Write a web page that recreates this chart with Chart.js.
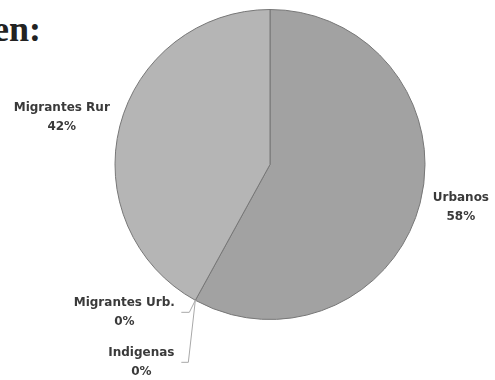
<!DOCTYPE html>
<html>
<head>
<meta charset="utf-8">
<script src="https://cdn.jsdelivr.net/npm/chart.js@4"></script>
<style>
  html, body { margin: 0; padding: 0; background: #fff; }
  #wrap { position: relative; width: 495px; height: 380px; overflow: hidden; }
  #title {
    position: absolute; left: -7px; top: 8px;
    font: bold 36px "Liberation Serif", serif; color: #222;
  }
  canvas { position: absolute; left: 0; top: 0; }
</style>
</head>
<body>
<div id="wrap">
  <div id="title">en:</div>
  <canvas id="origin-chart" width="495" height="380"></canvas>
</div>
<script>
// Population by origin
const categories = ["Urbanos", "Migrantes Urb.", "Indigenas", "Migrantes Rur"];
const shares = [58, 0, 0, 42];
const sliceColors = ["#a2a2a2", "#a2a2a2", "#a2a2a2", "#b5b5b5"];

// label placement: radial labels push out from the slice, tiny slices get a leader line
const labelStyle = [
  { dist: 40, dx: 2, dy: -6 },
  { leader: [-6, 12, -14, 12], dx: -57, dy: 0 },
  { leader: [-7, 62, -14, 62], dx: -40, dy: 0 },
  { dist: 60, dx: 0, dy: 6 },
];

const total = shares.reduce((a, b) => a + b, 0);

const outsideLabels = {
  id: "outsideLabels",
  afterDatasetsDraw(chart) {
    const ctx = chart.ctx;
    const meta = chart.getDatasetMeta(0);
    ctx.save();
    ctx.font = "bold 12px 'DejaVu Sans', sans-serif";
    ctx.fillStyle = "#3a3a3a";
    ctx.textAlign = "center";
    ctx.textBaseline = "middle";
    meta.data.forEach((arc, i) => {
      const { x, y, startAngle, endAngle, outerRadius } =
        arc.getProps(["x", "y", "startAngle", "endAngle", "outerRadius"], true);
      const mid = (startAngle + endAngle) / 2;
      const st = labelStyle[i];
      let cx, cy;
      if (st.leader) {
        const px = x + Math.cos(mid) * outerRadius;
        const py = y + Math.sin(mid) * outerRadius;
        const [ax, ay, bx, by] = st.leader;
        ctx.strokeStyle = "#a8a8a8";
        ctx.lineWidth = 1;
        ctx.beginPath();
        ctx.moveTo(px, py);
        ctx.lineTo(px + ax, py + ay);
        ctx.lineTo(px + bx, py + by);
        ctx.stroke();
        cx = px + bx + st.dx;
        cy = py + by + st.dy;
      } else {
        const r = outerRadius + st.dist;
        cx = x + Math.cos(mid) * r + st.dx;
        cy = y + Math.sin(mid) * r + st.dy;
      }
      const pct = Math.round((shares[i] / total) * 100) + "%";
      ctx.fillText(categories[i], cx, cy - 9.5);
      ctx.fillText(pct, cx, cy + 9.5);
    });
    ctx.restore();
  },
};

new Chart(document.getElementById("origin-chart"), {
  type: "pie",
  data: {
    labels: categories,
    datasets: [
      {
        data: shares,
        backgroundColor: sliceColors,
        borderColor: "#777777",
        borderWidth: 1,
      },
    ],
  },
  options: {
    responsive: false,
    animation: false,
    layout: {
      padding: { top: 9, bottom: 60, left: 100, right: 55 },
    },
    plugins: {
      legend: { display: false },
      tooltip: { enabled: false },
    },
  },
  plugins: [outsideLabels],
});
</script>
</body>
</html>
